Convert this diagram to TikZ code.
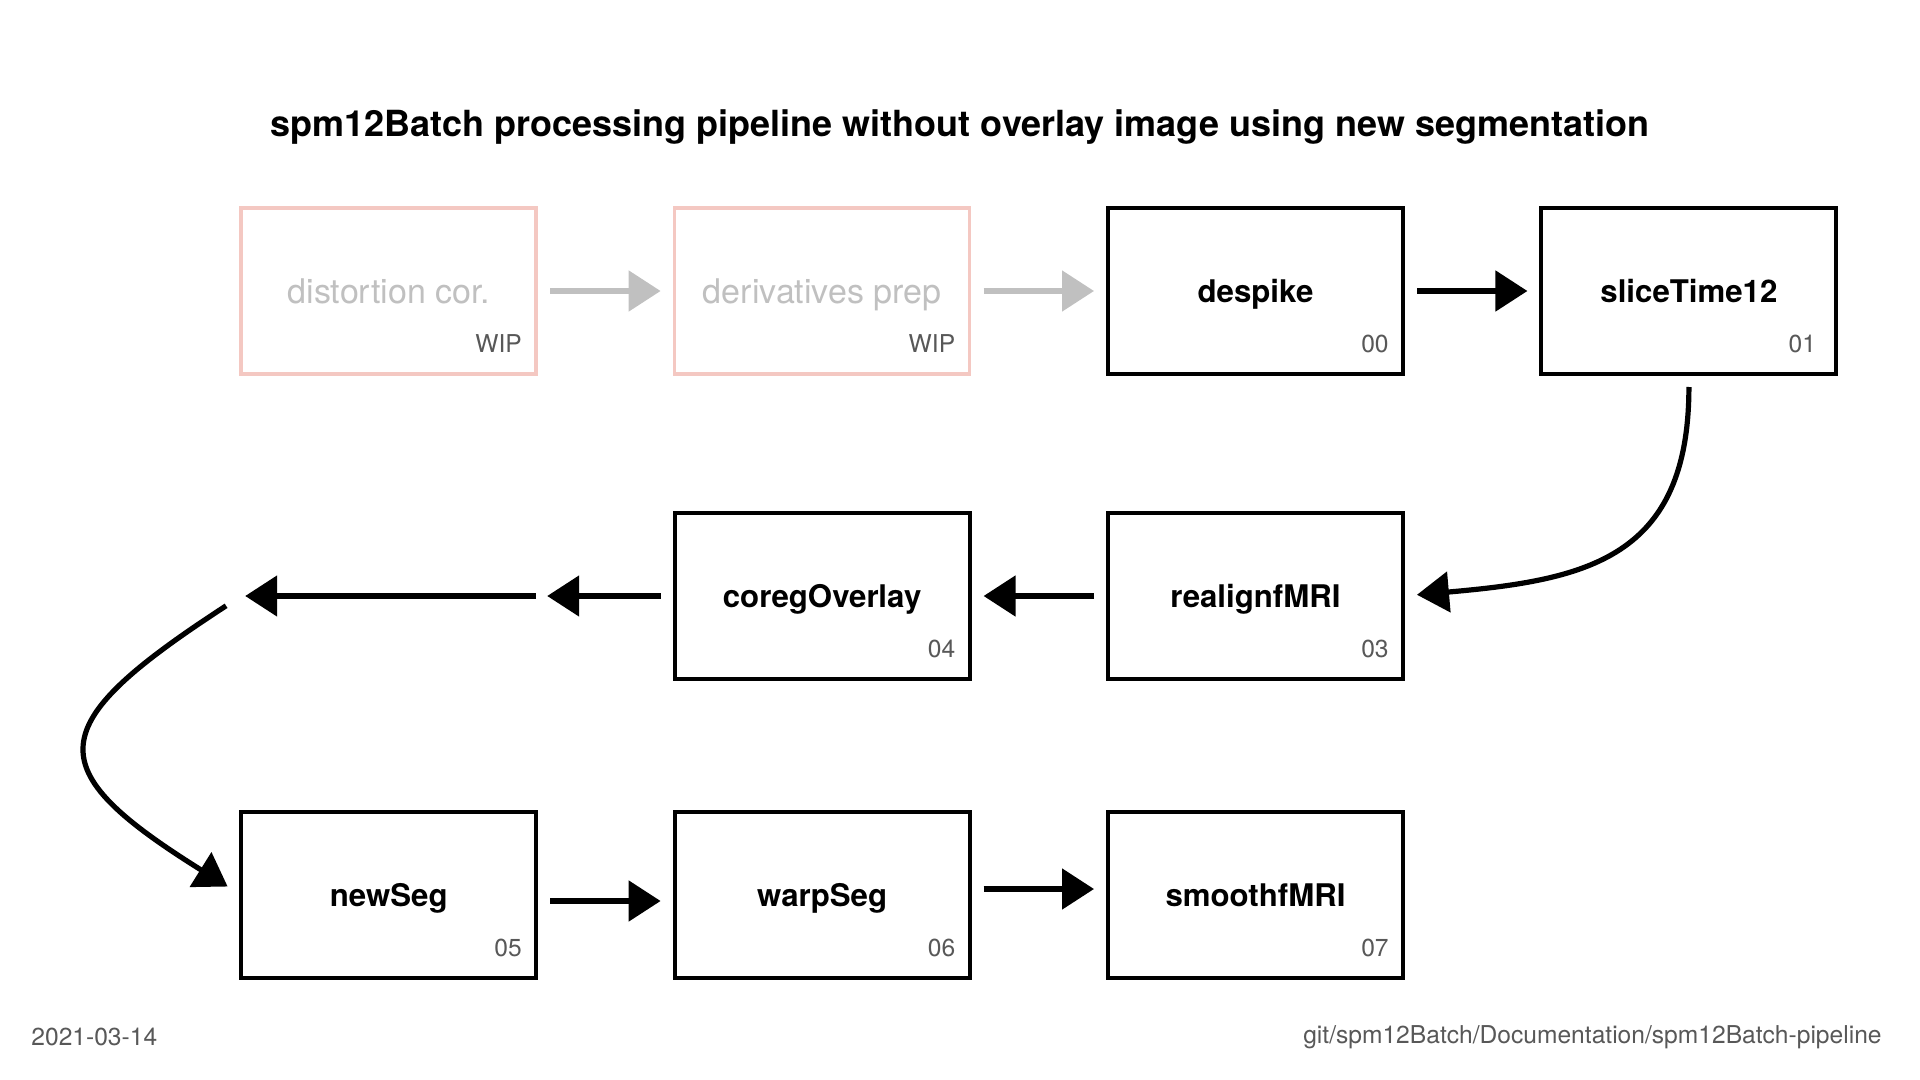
\documentclass[tikz,border=0pt]{standalone}
\usepackage{fontspec}
\setmainfont{TeX Gyre Heros}
\usepackage{tikz}
\usetikzlibrary{shapes, arrows.meta, positioning}
\definecolor{wippink}{RGB}{244,200,194}
\definecolor{fadegray}{RGB}{192,192,192}
\definecolor{numgray}{RGB}{88,88,88}
\tikzstyle{box} = [draw, line width=2pt, fill=white, rectangle, minimum width=147.5pt, minimum height=83pt, outer sep=0pt, text height=11.3pt, text depth=0pt, font=\fontsize{15.6}{19}\selectfont\bfseries]
\tikzstyle{wipbox} = [box, draw=wippink, line width=1.8pt, text=fadegray, text height=12.2pt, font=\fontsize{17}{20}\selectfont]
\tikzstyle{num} = [anchor=base east, text=numgray, font=\fontsize{12.3}{14}\selectfont, inner sep=0pt]
\tikzstyle{arr} = [line width=2.6pt, -{Triangle[length=16pt,width=20pt]}, shorten >=7pt, shorten <=7pt]
\tikzstyle{grayarr} = [arr, draw=fadegray]

\begin{document}
\begin{tikzpicture}[x=0.5pt, y=0.5pt, node distance=67.75pt and 69.2pt]
    \useasboundingbox (0,0) rectangle (1920,-1080);
    \node [font=\fontsize{18}{22}\selectfont\bfseries] (title) at (960,-127) {spm12Batch processing pipeline without overlay image using new segmentation};

    % first row
    \node [box] (despike) at (1255.5,-291) {despike};
    \node [box, right=of despike] (slice) {sliceTime12};
    \node [wipbox, left=of despike] (deriv) {derivatives prep};
    \node [wipbox, left=of deriv] (dist) {distortion cor.};

    % second row
    \node [box, below=69.5pt of despike] (realign) {realignfMRI};
    \node [box, left=of realign] (coreg) {coregOverlay};
    \node [box, draw=none, fill=none, left=of coreg] (blank) {};

    % third row
    \node [box, below=66.5pt of blank] (newseg) {newSeg};
    \node [box, right=of newseg] (warpseg) {warpSeg};
    \node [box, right=of warpseg] (smooth) {smoothfMRI};

    % step numbers
    \node [num] (wip1) at ([shift={(-14,22)}]dist.south east) {WIP};
    \node [num] (wip2) at ([shift={(-14,22)}]deriv.south east) {WIP};
    \node [num] (n00) at ([shift={(-14,22)}]despike.south east) {00};
    \node [num] (n01) at ([shift={(-20,22)}]slice.south east) {01};
    \node [num] (n03) at ([shift={(-14,22)}]realign.south east) {03};
    \node [num] (n04) at ([shift={(-14,22)}]coreg.south east) {04};
    \node [num] (n05) at ([shift={(-14,22)}]newseg.south east) {05};
    \node [num] (n06) at ([shift={(-14,22)}]warpseg.south east) {06};
    \node [num] (n07) at ([shift={(-14,22)}]smooth.south east) {07};

    \draw [grayarr] (dist) -- (deriv);
    \draw [grayarr] (deriv) -- (despike);
    \draw [arr] (despike) -- (slice);
    \draw [arr, shorten <=6.5pt] (slice.south) to[out=-90, in=5, looseness=1.3] (realign.east);
    \draw [arr] (realign) -- (coreg);
    \draw [arr, shorten >=5.5pt] (coreg) -- (blank);
    \draw [arr, shorten <=0pt, shorten >=2pt] (blank.east) -- (blank.west);
    \draw [arr, shorten <=9pt, shorten >=8pt] (blank.west) to[out=213, in=148, looseness=2.05] (newseg.west);
    \draw [arr] ([yshift=-3pt]newseg.east) -- ([yshift=-3pt]warpseg.west);
    \draw [arr] ([yshift=3pt]warpseg.east) -- ([yshift=3pt]smooth.west);

    \node [anchor=west, inner sep=0pt, text=numgray, font=\fontsize{12.3}{14}\selectfont] (date) at (31,-1037) {2021-03-14};
    \node [anchor=east, inner sep=0pt, text=numgray, font=\fontsize{12.3}{14}\selectfont] (path) at (1882,-1037) {git/spm12Batch/Documentation/spm12Batch-pipeline};
\end{tikzpicture}
\end{document}
